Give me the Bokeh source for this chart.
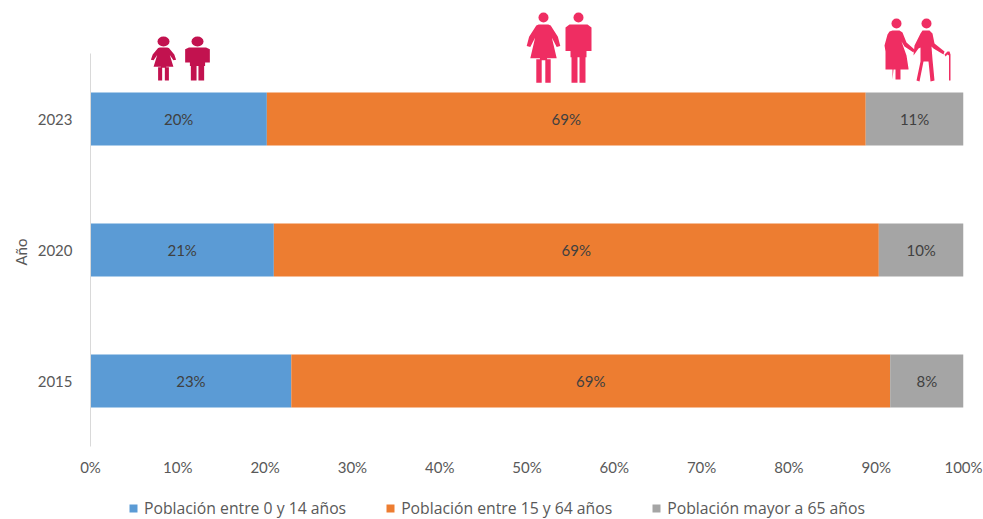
from bokeh.embed import file_html
from bokeh.resources import INLINE
from bokeh.plotting import figure
from bokeh.layouts import column
from bokeh.models import (ColumnDataSource, Range1d, FixedTicker, Legend, LegendItem, Title)
from bokeh.core.properties import value

years = ["2015", "2020", "2023"]
young = [23.0, 21.0, 20.2]
adult = [68.6, 69.3, 68.6]
older = [8.4, 9.7, 11.2]
young_labels = ["23%", "21%", "20%"]
adult_labels = ["69%", "69%", "69%"]
older_labels = ["8%", "10%", "11%"]
series_names = ["Población entre 0 y 14 años", "Población entre 15 y 64 años", "Población mayor a 65 años"]
x_ticks = [0, 10, 20, 30, 40, 50, 60, 70, 80, 90, 100]
colors = ["#5b9bd5", "#ed7d31", "#a5a5a5"]
text_color = "#595959"
FONT = "Lato"

p = figure(width=983, height=493, output_backend="svg", toolbar_location=None,
           x_range=Range1d(0, 100), y_range=Range1d(-0.5076, 2.9046),
           min_border_left=90, min_border_right=20, min_border_top=0, min_border_bottom=46,
           outline_line_color=None, background_fill_color="white", border_fill_color="white")
p.grid.visible = False

pos = list(range(len(years)))
y_left = [0.0] * 3
for vals, col in zip([young, adult, older], colors):
    right = [a + b for a, b in zip(y_left, vals)]
    src = ColumnDataSource(dict(y=pos, left=y_left, right=right))
    p.hbar(y="y", left="left", right="right", height=0.405, source=src, color=col, line_color=None)
    y_left = right

# data labels
start = [0.0] * 3
for vals, labs in zip([young, adult, older], [young_labels, adult_labels, older_labels]):
    mids = [s + v / 2 for s, v in zip(start, vals)]
    p.text(x=mids, y=pos, text=labs, text_align="center", text_baseline="middle",
           text_color="#404040", text_font=value(FONT), text_font_size="15px")
    start = [s + v for s, v in zip(start, vals)]

# axes
xa = p.xaxis[0]
xa.ticker = FixedTicker(ticks=x_ticks)
xa.major_label_overrides = {t: f"{t}%" for t in x_ticks}
xa.axis_line_color = None
xa.major_tick_line_color = None
xa.minor_tick_line_color = None
xa.major_label_text_color = text_color
xa.major_label_text_font = FONT
xa.major_label_text_font_size = "15px"
xa.major_label_standoff = 4

ya = p.yaxis[0]
ya.ticker = FixedTicker(ticks=pos)
ya.major_label_overrides = {i: y for i, y in enumerate(years)}
ya.bounds = (-0.5, 2.5)
ya.axis_line_color = "#d9d9d9"
ya.axis_line_width = 1
ya.major_tick_line_color = None
ya.minor_tick_line_color = None
ya.major_label_text_color = text_color
ya.major_label_text_font = FONT
ya.major_label_text_font_size = "15px"
ya.major_label_standoff = 12

p.add_layout(Title(text="Año", align="left", offset=182, standoff=10, text_color=text_color,
                   text_font=FONT, text_font_size="15px", text_font_style="normal"), "left")

# pictograms drawn in page pixels on a second pair of ranges
p.extra_x_ranges["px"] = Range1d(90, 963)
p.extra_y_ranges["px"] = Range1d(447, 0)
DARK = "#c2124f"
PINK = "#ef2d62"


def shape(xs, ys, ox, oy, col, sx=1.0, sy=1.0):
    p.patch([ox + sx * x for x in xs], [oy + sy * y for y in ys], color=col, line_color=None,
            x_range_name="px", y_range_name="px")


def head(ox, oy, rx, ry, col):
    p.ellipse(x=[ox], y=[oy], width=[2 * rx], height=[2 * ry], color=col, line_color=None,
              x_range_name="px", y_range_name="px")


def woman(cx, head_y, rx, ry, body_top, sx, sy, col):
    head(cx, head_y, rx, ry, col)
    shape([-4, 4, 6, 12, 14, 11, 7, 11, 3, 3, 6, 6, 1.5, 1.5, 0, -1.5, -1.5, -6, -6, -3, -3, -11, -7, -11, -14, -12, -6],
          [0, 0, 1, 12, 21, 22, 13, 33, 33, 34, 34, 57, 57, 35, 35, 35, 57, 57, 34, 34, 33, 33, 13, 22, 21, 12, 1],
          cx, body_top, col, sx, sy)


def man(cx, head_y, rx, ry, body_top, sx, sy, col):
    head(cx, head_y, rx, ry, col)
    shape([-9, 9, 13, 13, 10, 8, 8, 7, 7, 1, 1, -1, -1, -7, -7, -8, -8, -10, -13, -13],
          [0, 0, 3, 26, 26, 26, 32, 32, 57, 57, 32, 32, 57, 57, 32, 32, 26, 26, 26, 3],
          cx, body_top, col, sx, sy)


# children
woman(163, 41, 6, 5, 47, 0.9, 0.58, DARK)
man(197, 41, 6, 5, 47, 0.95, 0.58, DARK)
# adults
woman(543, 17, 5, 5, 24, 1.2, 1.02, PINK)
man(578, 17, 5, 5, 24, 1.0, 1.02, PINK)
# older people
head(896, 23, 5, 5, PINK)
shape([-4, 3, 6, 10, 18, 17, 8, 5, 10, 12, 12, 4, 4, 2, 0, -1, -1, -4, -4, -3, -11, -11, -12, -9, -7],
      [-11, -11, -9, 1, 8, 11, 5, 0, 14, 27, 28, 28, 38, 38, 38, 38, 28, 28, 38, 28, 28, 10, 4, -7, -10],
      896, 41, PINK)
head(926, 23, 5, 5, PINK)
shape([-4, 3, 6, 8, 18, 17, 7, 5, 6, 8, 4, 2, 0, -3, -7, -10, -6, -6, -8, -13, -12, -6],
      [-11, -11, -8, 2, 10, 13, 7, 5, 18, 39, 40, 20, 20, 20, 40, 39, 20, 6, 7, 14, 4, -8],
      926, 41, PINK)
shape([-4, -1, 1, 2, 2, 0.5, 0.5, -1, -3],
      [54, 51, 51, 54, 80, 80, 55, 54, 56], 948, 0, PINK)

# legend strip
leg = figure(width=983, height=26, output_backend="svg", toolbar_location=None,
             x_range=Range1d(0, 100), y_range=Range1d(10, 11), x_axis_location=None, y_axis_location=None,
             min_border=0, outline_line_color=None)
leg.grid.visible = False
items = []
for name, col, vals in zip(series_names, colors, [young, adult, older]):
    r = leg.hbar(y=pos, left=[0] * 3, right=vals, height=0.4, color=col, line_color=None)
    items.append(LegendItem(label=name, renderers=[r]))
legend = Legend(items=items, orientation="horizontal", location=(38, 0), border_line_color=None,
                background_fill_alpha=0, glyph_width=10, glyph_height=10, label_standoff=6,
                spacing=39, margin=0, padding=0,
                label_text_font="Open Sans", label_text_font_size="15.75px", label_text_color=text_color)
leg.add_layout(legend)

open("out.html", "w").write(file_html(column(p, leg, spacing=0), INLINE))
